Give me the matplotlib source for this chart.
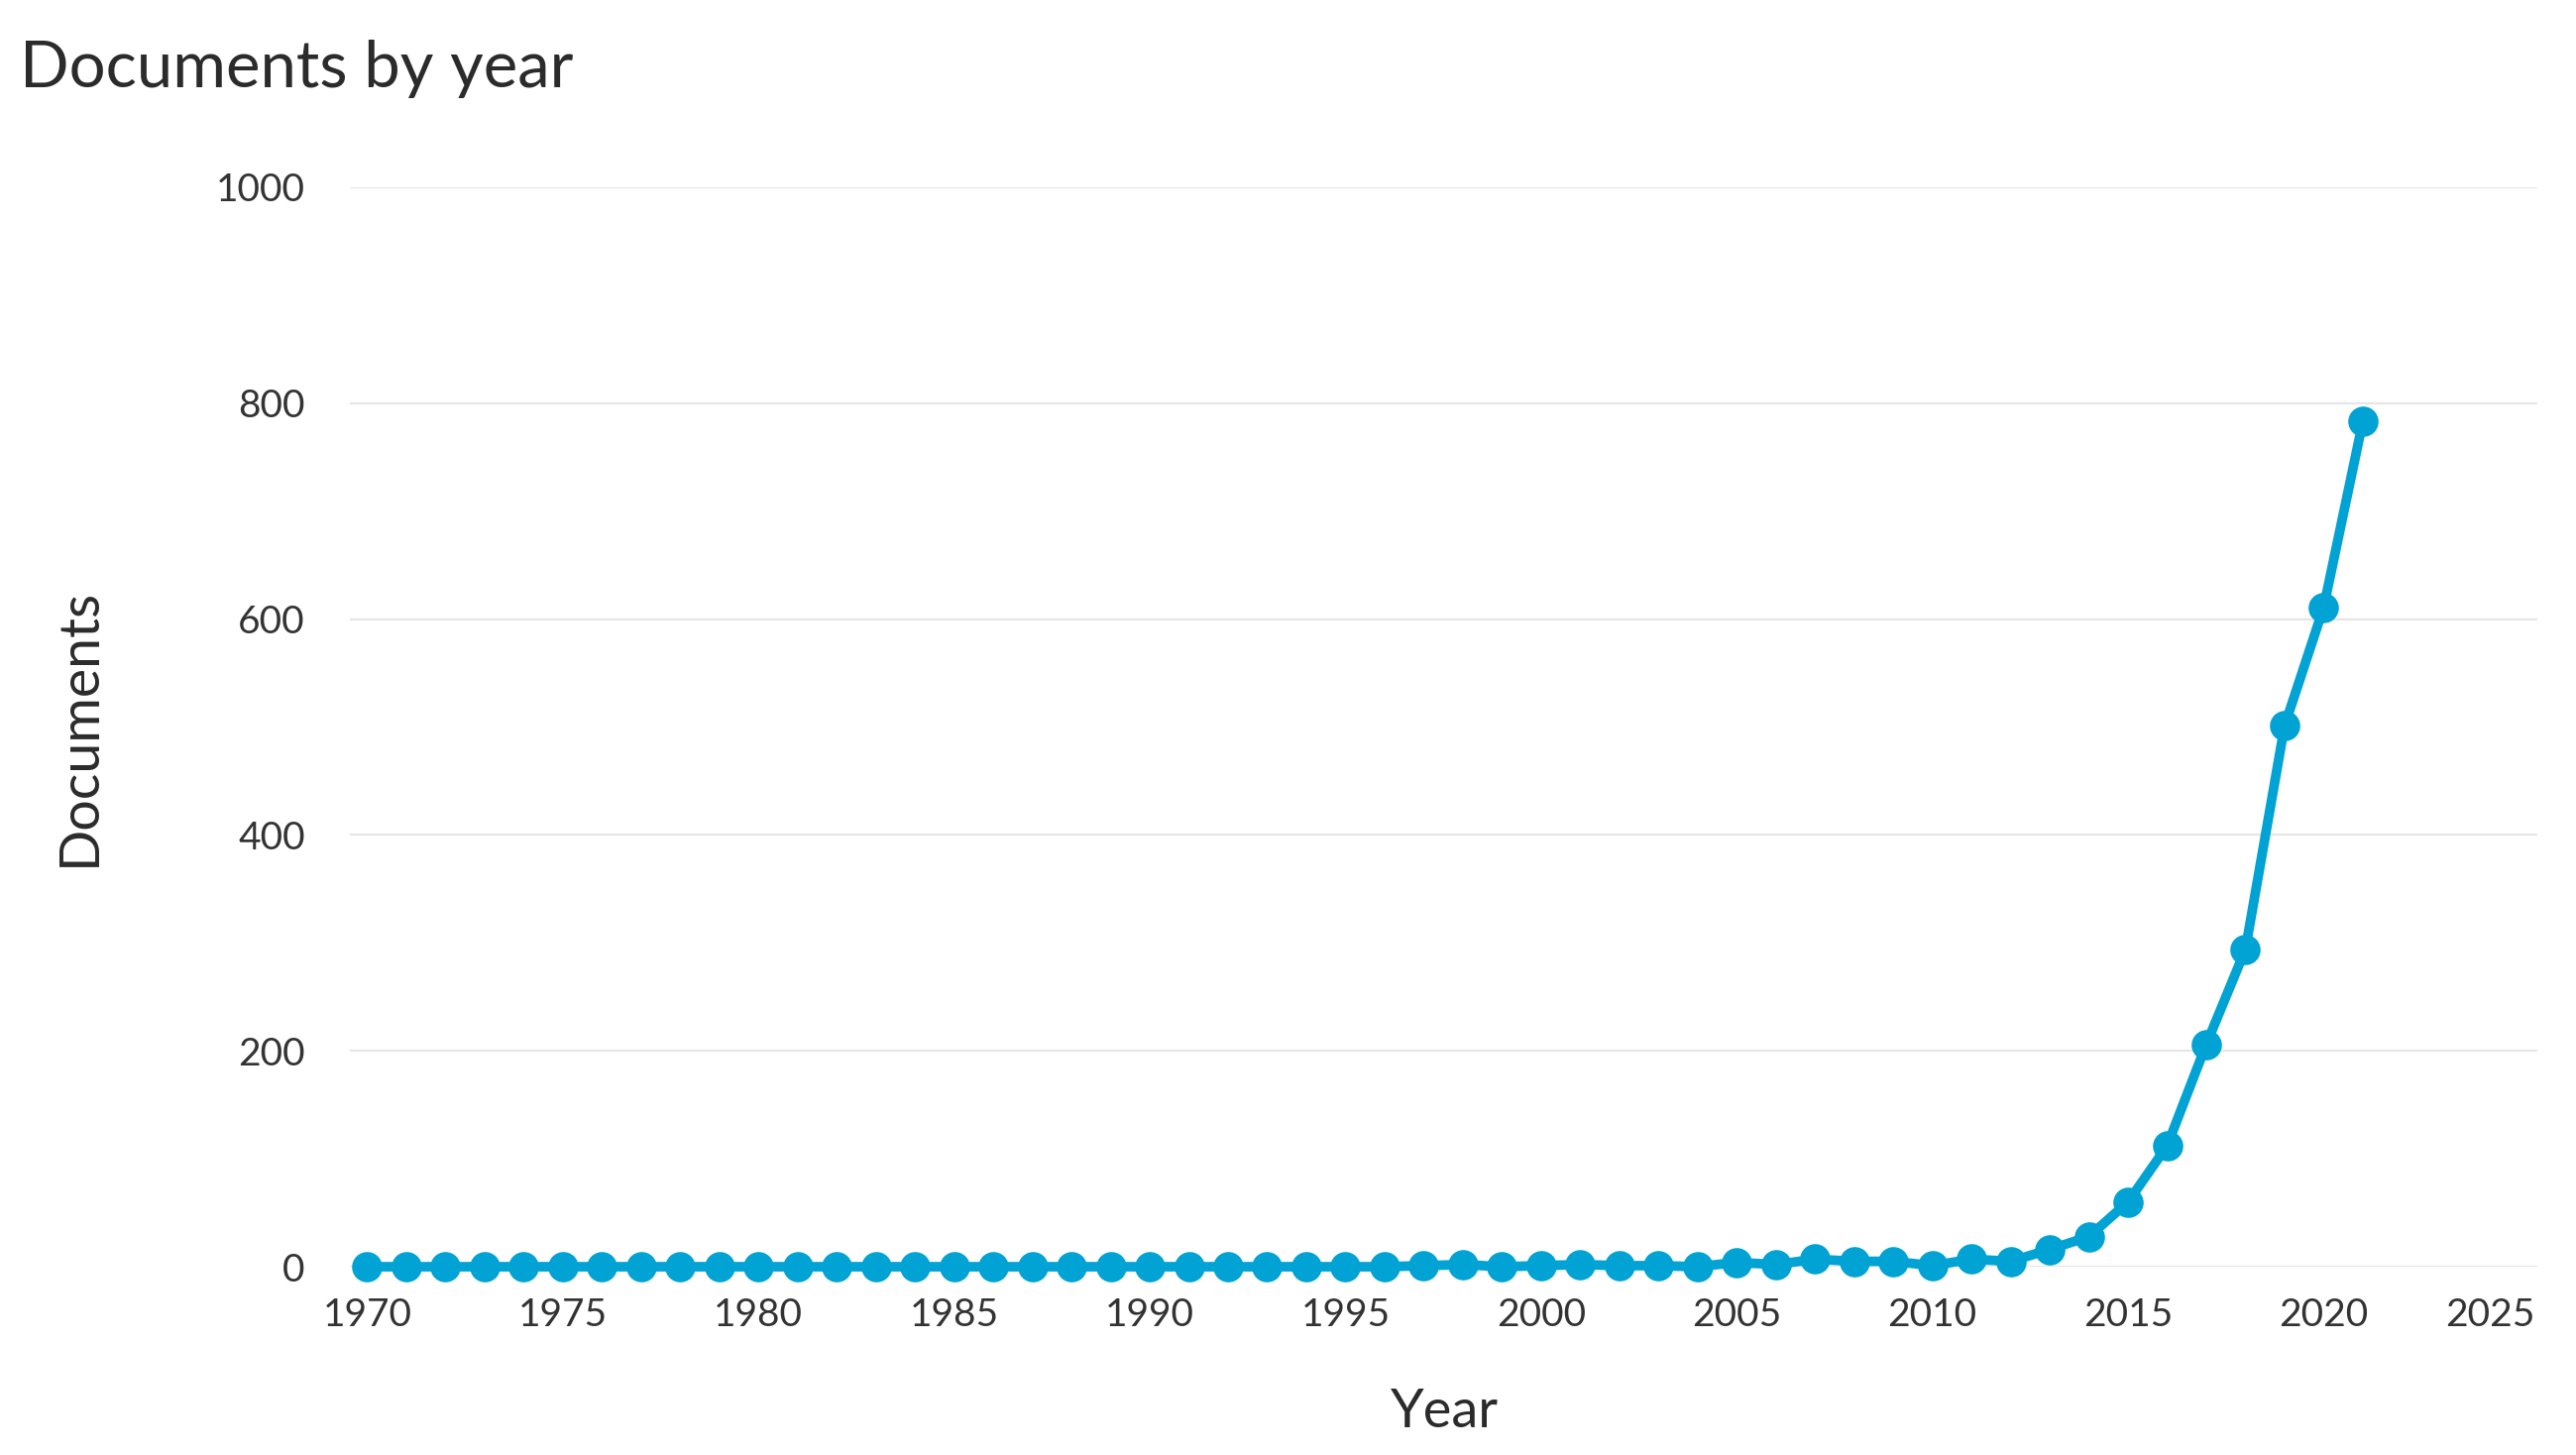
import matplotlib
matplotlib.use("Agg")
import matplotlib.pyplot as plt
from matplotlib.transforms import ScaledTranslation

# Documents per year
years = list(range(1970, 2022))
docs = [0] * 27 + [1, 2, 0, 1, 2, 1, 1, 0, 4, 2, 7, 5, 5, 1, 7, 5,
                   16, 28, 60, 112, 206, 294, 501, 611, 783]

y_ticks = [0, 200, 400, 600, 800, 1000]
x_ticks = [1970, 1975, 1980, 1985, 1990, 1995, 2000, 2005, 2010, 2015, 2020, 2025]

plt.rcParams['font.family'] = ['Lato', 'DejaVu Sans']

fig = plt.figure(figsize=(25.99, 14.68), dpi=100)
ax = fig.add_axes([0.136, 0.1294, 0.849, 0.7419])

ax.plot(years, docs, color='#00a3d3', linewidth=7, marker='o',
        markersize=21, clip_on=False, zorder=3)

ax.set_xlim(1969.57, 2025.46)
ax.set_ylim(0, 1000)
ax.set_yticks(y_ticks)
ax.set_xticks(x_ticks)
ax.tick_params(axis='y', length=0, pad=33, labelsize=28, labelcolor='#333333')
ax.tick_params(axis='x', length=0, pad=22, labelsize=28, labelcolor='#333333')

# last year label sits pulled in from the edge
last = ax.get_xticklabels()[-1]
last.set_transform(last.get_transform() + ScaledTranslation(-0.30, 0, fig.dpi_scale_trans))

ax.grid(axis='y', color='#e6e6e6', linewidth=1.6)
ax.axhline(0, color='#d9ddf0', linewidth=2.2, zorder=1)
for s in ax.spines.values():
    s.set_visible(False)

fig.text(20 / 2599, 1 - 88 / 1468, "Documents by year", fontsize=47,
         color='#2b2b2b', va='baseline', ha='left')
fig.text(80 / 2599, 1 - 733 / 1468, "Documents", fontsize=40, rotation=90,
         color='#2b2b2b', va='center', ha='center')
fig.text(1457 / 2599, 1 - 1425 / 1468, "Year", fontsize=39,
         color='#2b2b2b', va='center', ha='center')

fig.savefig("out.png", dpi=100, facecolor='white')
